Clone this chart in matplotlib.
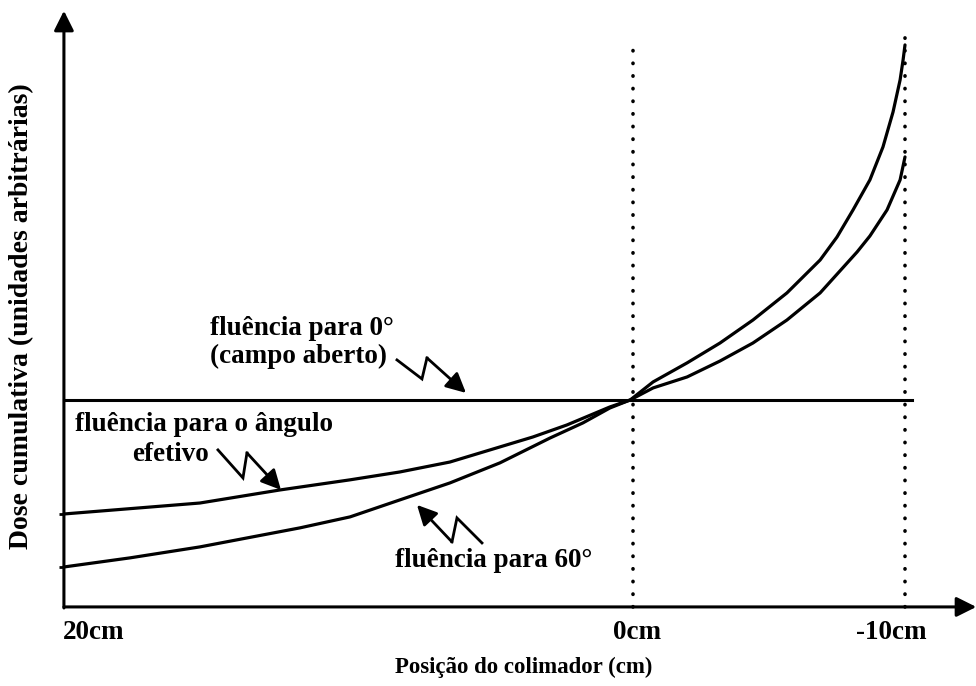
import matplotlib
matplotlib.use("Agg")
import matplotlib.pyplot as plt
import numpy as np

# ---- data (x in cm, dose in arbitrary units; open field = 1) ----
x_open = [20.92, -10.26]
y_open = [1.0, 1.0]

x_eff = [20.92, 15.92, 12.98, 10.40, 8.57, 6.73, 4.89, 3.68, 2.43, 0.85, 0.10,
         -0.74, -1.99, -3.20, -4.41, -5.66, -6.88, -8.24, -8.71, -9.34, -9.82, -10.0]
y_eff = [0.449, 0.502, 0.565, 0.614, 0.652, 0.700, 0.773, 0.821, 0.879, 0.966, 1.0,
         1.058, 1.111, 1.188, 1.275, 1.386, 1.517, 1.715, 1.792, 1.918, 2.063, 2.174]

x_60 = [20.92, 18.49, 15.92, 12.24, 10.40, 8.57, 6.73, 4.89, 3.05, 1.84, 0.85, 0.10,
        -0.74, -1.99, -3.20, -4.41, -5.66, -6.88, -7.50, -8.09, -8.71, -9.19, -9.56,
        -9.82, -9.93, -10.0]
y_60 = [0.193, 0.237, 0.290, 0.382, 0.435, 0.517, 0.599, 0.696, 0.816, 0.889, 0.961, 1.0,
        1.087, 1.179, 1.275, 1.386, 1.517, 1.676, 1.787, 1.918, 2.063, 2.222, 2.391,
        2.546, 2.643, 2.715]

tick_pos = [20.0, 0.0, -10.0]
tick_labels = ["20cm", "0cm", "-10cm"]
vlines_x = [0.0, -10.0]
vlines_top = [2.715, 2.775]

FONT = "Liberation Serif"
plt.rcParams['font.family'] = [FONT, 'DejaVu Serif']
FS = 19.5

fig = plt.figure(figsize=(9.76, 6.86), dpi=100)
ax = fig.add_axes([0, 0, 1, 1])
ax.set_xlim(23.27, -12.61)
ax.set_ylim(-0.382, 2.932)
ax.axis('off')

def px(x, y):
    return ((633 - x) / 27.2, (607 - y) / 207.0)

x0 = x_eff[0]
# axes with arrows
ax.annotate('', xy=(x0, 2.88), xytext=(x0, -0.005),
            arrowprops=dict(arrowstyle='-|>', lw=2.2, color='k', mutation_scale=30,
                            shrinkA=0, shrinkB=0))
ax.annotate('', xy=(-12.62, 0), xytext=(x0, 0),
            arrowprops=dict(arrowstyle='-|>', lw=2.2, color='k', mutation_scale=30,
                            shrinkA=0, shrinkB=0))
# small ticks on y axis
for yv in (y_eff[0], y_60[0]):
    ax.plot([x0 + 0.18, x0], [yv, yv], color='k', lw=2.0, solid_capstyle='butt')

# dotted vertical lines
for xv, top in zip(vlines_x, vlines_top):
    ax.plot([xv, xv], [0, top], color='k', lw=2.6, linestyle=(0, (0.1, 3.4)),
            dash_capstyle='round')

# curves
ax.plot(x_open, y_open, color='k', lw=2.2)
ax.plot(x_eff, y_eff, color='k', lw=2.3, solid_capstyle='round', solid_joinstyle='round')
ax.plot(x_60, y_60, color='k', lw=2.3, solid_capstyle='round', solid_joinstyle='round')

# tick labels (small pixel offsets as in the original drawing)
label_offsets = [5, 4, -14]
for xv, lab, off in zip(tick_pos, tick_labels, label_offsets):
    ax.annotate(lab, xy=(xv, px(0, 633)[1]), xytext=(off * 0.72, 0),
                textcoords='offset points', ha='center', va='center',
                fontsize=FS, fontweight='bold')

# axis labels
ax.text(*px(524, 667), "Posição do colimador (cm)", ha='center', va='center',
        fontsize=16.5, fontweight='bold')
ax.text(*px(22, 316), "Dose cumulativa (unidades arbitrárias)", ha='center',
        va='center', rotation=90, fontsize=20, fontweight='bold')

# annotations text
ax.text(*px(210, 329), "fluência para 0°", ha='left', va='center', fontsize=FS, fontweight='bold')
ax.text(*px(210, 357), "(campo aberto)", ha='left', va='center', fontsize=FS, fontweight='bold')
ax.text(*px(75, 425), "fluência para o ângulo", ha='left', va='center', fontsize=FS, fontweight='bold')
ax.text(*px(132, 455), "efetivo", ha='left', va='center', fontsize=FS, fontweight='bold')
ax.text(*px(395, 561), "fluência para 60°", ha='left', va='center', fontsize=FS, fontweight='bold')

# zig-zag arrows
def zigzag(pts):
    dp = [px(*p) for p in pts]
    xs = [p[0] for p in dp[:-1]]
    ys = [p[1] for p in dp[:-1]]
    ax.plot(xs, ys, color='k', lw=2.0, solid_joinstyle='miter')
    ax.annotate('', xy=dp[-1], xytext=dp[-2],
                arrowprops=dict(arrowstyle='-|>', lw=2.0, color='k', mutation_scale=30,
                                shrinkA=0, shrinkB=0))

zigzag([(397, 360), (422, 379), (427, 358), (466, 393)])
zigzag([(218, 450), (243, 478), (247, 453), (281, 490)])
zigzag([(482, 543), (457, 518), (452, 542), (417, 505)])

fig.savefig("out.png", dpi=100)
